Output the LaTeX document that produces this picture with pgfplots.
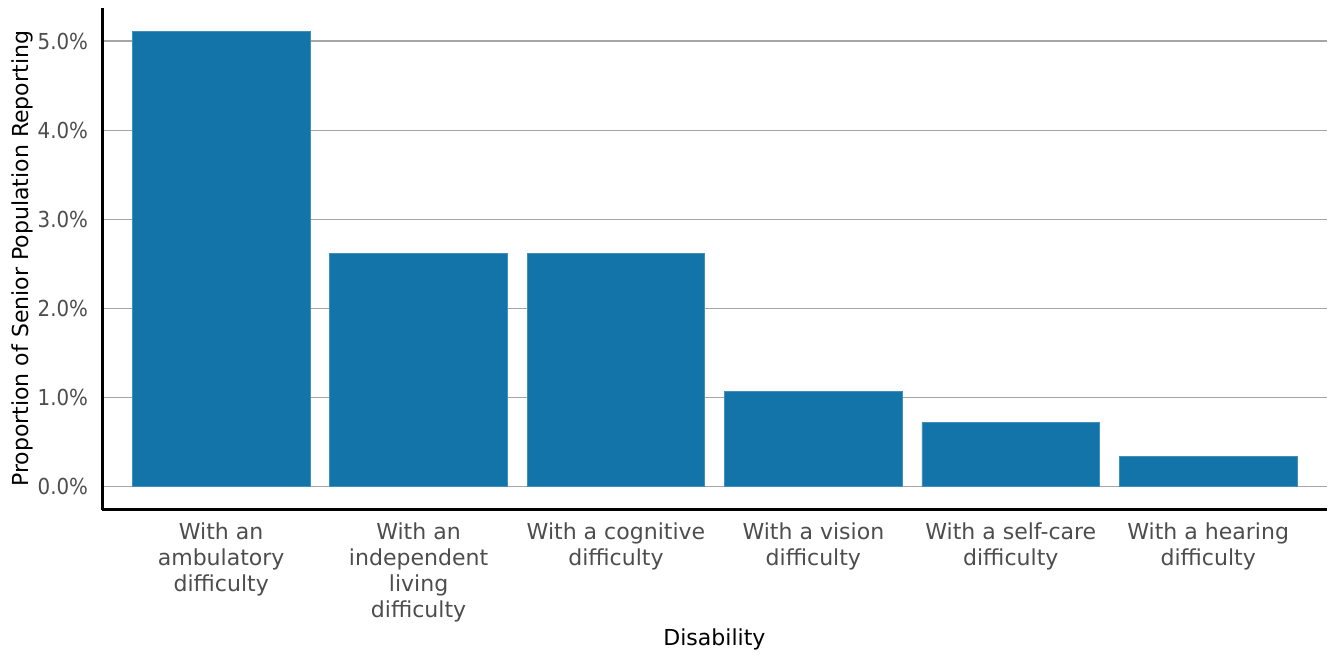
\documentclass[border=0pt]{standalone}
\usepackage{pgfplots}
\pgfplotsset{compat=1.18}
\usepackage{fontspec}
\setmainfont{DejaVu Sans}
\newfontfamily\condfont{DejaVu Sans Condensed}
\definecolor{barblue}{RGB}{18,116,168}
\definecolor{ticktext}{RGB}{77,77,77}
\begin{document}
\begin{tikzpicture}
\begin{axis}[
  scale only axis,
  width=611.5pt, height=250.5pt,
  xmin=-0.603, xmax=5.6,
  ymin=-0.258, ymax=5.37,
  axis x line*=bottom, axis y line*=left,
  axis line style={black, line width=1.4pt},
  xtick=data,
  xticklabels={{With an\\ambulatory\\difficulty},{With an\\independent\\living\\difficulty},{With a cognitive\\difficulty},{With a vision\\difficulty},{With a self-care\\difficulty},{With a hearing\\difficulty}},
  x tick label style={align=center, font=\fontsize{11pt}{13pt}\selectfont, text=ticktext, yshift=-3pt},
  ytick={0,1,2,3,4,5},
  yticklabels={0.0\%,1.0\%,2.0\%,3.0\%,4.0\%,5.0\%},
  y tick label style={font=\condfont\fontsize{11pt}{13pt}\selectfont, text=ticktext, xshift=-3.5pt},
  major tick length=0pt,
  ymajorgrids, grid style={gray!70, line width=0.6pt},
  xlabel={Disability}, ylabel={Proportion of Senior Population Reporting},
  label style={font=\fontsize{11pt}{13pt}\selectfont},
  ylabel style={at={(axis description cs:-0.0654,0.5)}, anchor=center},
  xlabel style={yshift=3.5pt},
  extra description/.code={\path (axis description cs:0,1) ++(-51pt,4pt);},
  clip=false,
]
\addplot[ybar, bar width=0.9, fill=barblue, draw=barblue!80!white, line width=0.3pt] coordinates {
(0,5.11) (1,2.62) (2,2.62) (3,1.07) (4,0.72) (5,0.34)};
\end{axis}
\end{tikzpicture}
\end{document}
